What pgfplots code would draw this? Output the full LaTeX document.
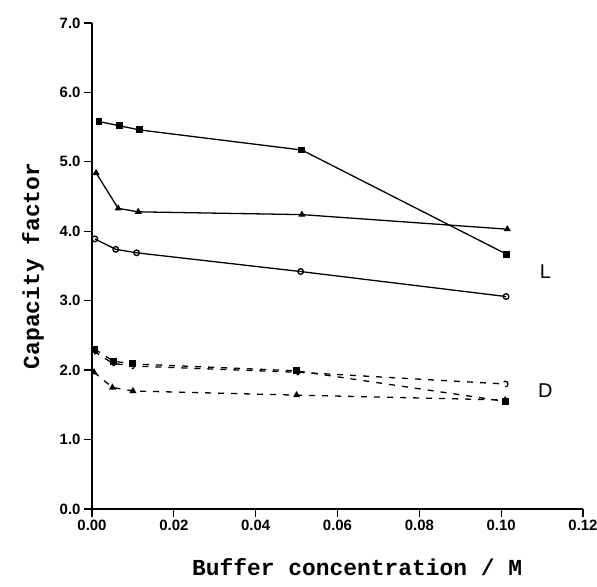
\documentclass[border=0pt]{standalone}
\usepackage{fontspec}
\setmainfont{Liberation Sans}
\newfontfamily\mono{Liberation Mono}
\usepackage{pgfplots}
\pgfplotsset{compat=1.18}
\newcommand\tf{\bfseries\fontsize{15}{15}\selectfont}
\begin{document}
\begin{tikzpicture}[x=1bp,y=1bp]
\useasboundingbox (0,0) rectangle (597,587);
\begin{axis}[at={(92bp,78bp)}, anchor=south west, scale only axis,
 width=491bp, height=486bp,
 xmin=0, xmax=0.12, ymin=0, ymax=7,
 axis x line=bottom, axis y line=left,
 axis line style={line width=1.4pt, -},
 xtick={0,0.02,0.04,0.06,0.08,0.10,0.12},
 xticklabels={{\tf 0.00},{\tf 0.02},{\tf 0.04},{\tf 0.06},{\tf 0.08},{\tf 0.10},{\tf 0.12}},
 ytick={0,1,2,3,4,5,6,7},
 yticklabels={{\tf 0.0},{\tf 1.0},{\tf 2.0},{\tf 3.0},{\tf 4.0},{\tf 5.0},{\tf 6.0},{\tf 7.0}},
 tick align=outside, major tick length=8bp,
 tick style={line width=1.3pt, black},
 scaled x ticks=false,
 tick label style={font=\tf},
 xlabel={Buffer concentration / M}, ylabel={Capacity factor},
 label style={font=\mono\bfseries\fontsize{23}{23}\selectfont},
 xlabel style={at={(axis description cs:0.54,-0.12)}, anchor=center},
 ylabel style={at={(axis description cs:-0.12,0.5)}, anchor=center},
 clip=false,
 every axis plot/.append style={black, line width=1.3pt, mark size=2.8bp,
   mark options={solid}},
]
% L series (solid)
\addplot[mark=square*] coordinates {(0.0017,5.58) (0.0067,5.52) (0.0116,5.46) (0.0513,5.17) (0.1013,3.67)};
\addplot[mark=triangle*] coordinates {(0.0010,4.84) (0.0064,4.33) (0.0113,4.28) (0.0513,4.24) (0.1015,4.03)};
\addplot[mark=o, mark options={fill=white}] coordinates {(0.0007,3.89) (0.0058,3.74) (0.0109,3.69) (0.0510,3.42) (0.1012,3.06)};
% D series (dashed)
\addplot[mark=square*, dash pattern=on 6bp off 7bp] coordinates {(0.0007,2.30) (0.0052,2.13) (0.0098,2.09) (0.0500,1.99) (0.1010,1.55)};
\addplot[mark=o, mark options={fill=white}, dash pattern=on 6bp off 7bp] coordinates {(0.0005,2.27) (0.0050,2.10) (0.0097,2.06) (0.0500,1.97) (0.1010,1.80)};
\addplot[mark=triangle*, dash pattern=on 6bp off 7bp] coordinates {(0.0005,1.97) (0.0050,1.75) (0.0100,1.70) (0.0500,1.64) (0.1010,1.57)};
\node[font=\fontsize{20}{20}\selectfont] at (axis cs:0.1108,3.42) {L};
\node[font=\fontsize{20}{20}\selectfont] at (axis cs:0.1108,1.71) {D};
\end{axis}
\end{tikzpicture}
\end{document}
